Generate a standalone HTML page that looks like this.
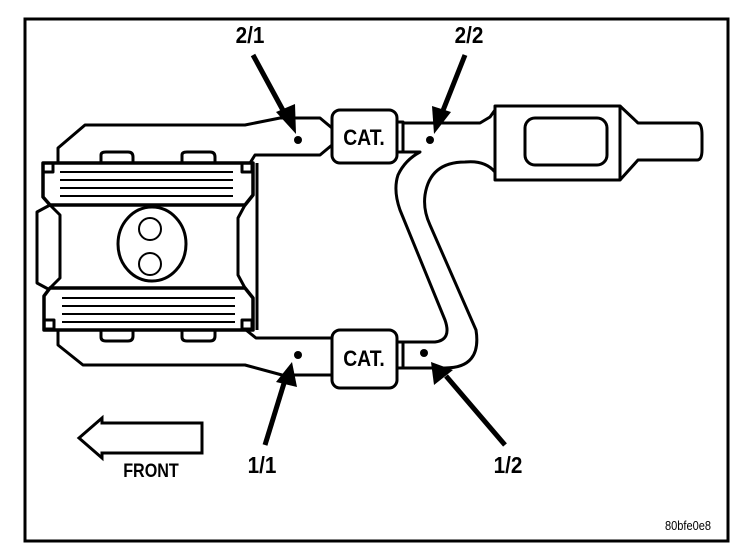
<!DOCTYPE html>
<html><head><style>html,body{margin:0;padding:0;background:#fff}svg{display:block}</style></head>
<body>
<svg width="752" height="560" viewBox="0 0 752 560" xmlns="http://www.w3.org/2000/svg" font-family="'Liberation Sans', sans-serif" font-weight="bold">
<rect x="25" y="19" width="703" height="522" fill="none" stroke="#000" stroke-width="3"/>
<g fill="none" stroke="#000" stroke-width="3" stroke-linejoin="round">
<path d="M58,163 L58,148 L85,125 L245,125 L280,118 L320,118 L332,128"/>
<path d="M250,163 L255,155 L320,155 L332,145"/>
<path d="M58,330 L58,345 L83,365 L245,365 L282,375 L320,375"/>
<path d="M246,330 L256,338 L320,338 L332,338"/>
<path d="M320,375 L332,375"/>
<path d="M101,163 L101,155 Q101,152 106,152 L128,152 Q133,152 133,157 L133,163"/>
<path d="M182,163 L182,155 Q182,152 187,152 L210,152 Q215,152 215,157 L215,163"/>
<path d="M101,330 L101,337 Q101,341 106,341 L128,341 Q133,341 133,336 L133,330"/>
<path d="M182,330 L182,337 Q182,341 187,341 L210,341 Q215,341 215,336 L215,330"/>
<path d="M43,163 L253,163 L253,195 L245,205 L50,205 L43,197 Z" stroke-width="3.5"/>
<path d="M44,330 L253,330 L253,298 L245,288 L50,288 L44,296 Z" stroke-width="3.5"/>
<line x1="257" y1="163" x2="257" y2="330"/>
<path d="M50,205 L37,212 L37,283 L50,290"/>
<path d="M50,205 L60,215 L60,278 L50,288"/>
<path d="M245,205 L238,218 L238,275 L245,288"/>
<rect x="43" y="163" width="10" height="9"/>
<rect x="242" y="163" width="10" height="9"/>
<rect x="44" y="320" width="10" height="9"/>
<rect x="242" y="320" width="10" height="9"/>
<ellipse cx="152" cy="244" rx="34" ry="37"/>
<circle cx="150" cy="229" r="11" stroke-width="2"/>
<circle cx="150" cy="264" r="11" stroke-width="2"/>
</g>
<g stroke="#000" stroke-width="2">
<line x1="60" y1="172" x2="233" y2="172"/><line x1="60" y1="180" x2="233" y2="180"/><line x1="60" y1="188" x2="233" y2="188"/><line x1="60" y1="196" x2="233" y2="196"/>
<line x1="62" y1="298" x2="235" y2="298"/><line x1="62" y1="306" x2="235" y2="306"/><line x1="62" y1="314" x2="235" y2="314"/><line x1="62" y1="322" x2="235" y2="322"/>
</g>
<g fill="none" stroke="#000" stroke-width="3" stroke-linejoin="round">
<rect x="332" y="110" width="65" height="53" rx="8"/>
<rect x="332" y="330" width="65" height="58" rx="8"/>
<path d="M397,122 L403,122 L403,152 L397,152"/>
<path d="M397,342 L403,342 L403,368 L397,368"/>
<path d="M403,123 L480,123 L490,117 L495,110"/>
<path d="M403,152 L420,152 Q405,160 398,175 Q393,190 400,210 L445,320 Q452,340 435,342 L403,342"/>
<path d="M495,172 Q485,160 465,162 Q430,162 425,195 Q423,210 430,225 L476,330 Q482,368 445,368 L403,368"/>
<rect x="495" y="106" width="125" height="74"/>
<rect x="525" y="118" width="82" height="47" rx="10"/>
<path d="M620,106 L638,123 L697,123 Q702,123 702,135 L702,150 Q702,160 697,160 L638,160 L620,180"/>
</g>
<g fill="#000">
<circle cx="298" cy="140" r="4"/><circle cx="430" cy="140" r="4"/>
<circle cx="298" cy="355" r="4"/><circle cx="424" cy="353" r="4"/>
</g>
<g stroke="#000" stroke-width="5">
<line x1="253" y1="55" x2="285" y2="114"/>
<line x1="465" y1="55" x2="442" y2="113"/>
<line x1="265" y1="445" x2="285" y2="380"/>
<line x1="505" y1="445" x2="446" y2="376"/>
</g>
<g fill="#000">
<polygon points="296,134 276,112 295,104"/>
<polygon points="434,134 432,106 451,112"/>
<polygon points="292,362 276,382 297,387"/>
<polygon points="431,362 434,385 453,370"/>
</g>
<g font-size="23" text-anchor="middle">
<text x="250" y="43" transform="translate(250 0) scale(0.9 1) translate(-250 0)">2/1</text>
<text x="469" y="43" transform="translate(469 0) scale(0.9 1) translate(-469 0)">2/2</text>
<text x="262" y="473" transform="translate(262 0) scale(0.9 1) translate(-262 0)">1/1</text>
<text x="508" y="473" transform="translate(508 0) scale(0.9 1) translate(-508 0)">1/2</text>
</g>
<g font-size="22" text-anchor="middle">
<text x="364" y="145" transform="translate(364 0) scale(0.88 1) translate(-364 0)">CAT.</text>
<text x="364" y="366" transform="translate(364 0) scale(0.88 1) translate(-364 0)">CAT.</text>
</g>
<path d="M79,438 L102,418 L102,423 L202,423 L202,453 L102,453 L102,458 Z" fill="none" stroke="#000" stroke-width="3"/>
<text x="151" y="477" font-size="19" text-anchor="middle" transform="translate(151 0) scale(0.85 1) translate(-151 0)">FRONT</text>
<text x="711" y="530" font-size="13" font-weight="normal" text-anchor="end" transform="translate(711 0) scale(0.85 1) translate(-711 0)">80bfe0e8</text>
</svg>
</body></html>
